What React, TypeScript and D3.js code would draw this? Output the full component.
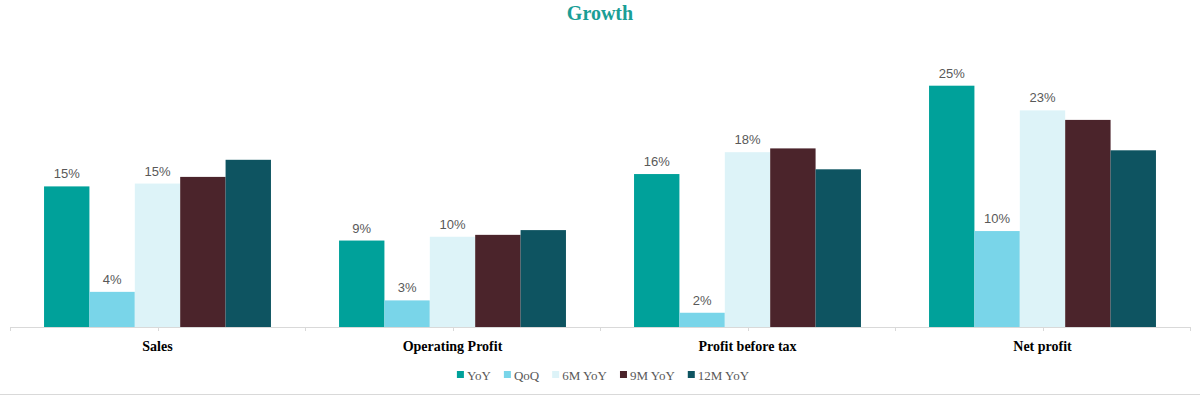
import { useEffect, useRef } from 'react';
import * as d3 from 'd3';

const categorias = ['Sales', 'Operating Profit', 'Profit before tax', 'Net profit'];
const series = ['YoY', 'QoQ', '6M YoY', '9M YoY', '12M YoY'];
const colores = ['#00a19a', '#79d5e9', '#ddf3f8', '#4b242b', '#0e5461'];
// valores en % por categoria, en el orden de series
const valYoY = [14.8, 9.1, 16.1, 25.4];
const valQoQ = [3.7, 2.8, 1.5, 10.1];
const val6M = [15.1, 9.5, 18.4, 22.8];
const val9M = [15.8, 9.7, 18.8, 21.8];
const val12M = [17.6, 10.2, 16.6, 18.6];
const conEtiqueta = ['YoY', 'QoQ', '6M YoY'];

const W = 1200;
const H = 396;

export default function App() {
  const ref = useRef<SVGSVGElement>(null);

  useEffect(() => {
    const svg = d3.select(ref.current);
    svg.selectAll('*').remove();

    const valores = [valYoY, valQoQ, val6M, val9M, val12M];
    const datos = categorias.flatMap((c, i) =>
      series.map((s, j) => ({ cat: c, serie: s, valor: valores[j][i], color: colores[j] }))
    );

    const baseY = 327;
    const x0 = d3.scaleBand().domain(categorias).range([10, 1190]).padding(0);
    const x1 = d3.scaleBand().domain(series).range([0, x0.bandwidth()]).paddingInner(0).paddingOuter(0.75);
    const y = d3.scaleLinear().domain([0, 30]).range([baseY, 42]);

    // Titulo
    svg.append('text')
      .attr('x', W / 2)
      .attr('y', 20)
      .attr('text-anchor', 'middle')
      .attr('font-family', 'Liberation Serif, serif')
      .attr('font-weight', 700)
      .attr('font-size', 20)
      .attr('fill', '#1a9e96')
      .text('Growth');

    // Barras
    svg.append('g')
      .selectAll('rect')
      .data(datos)
      .join('rect')
      .attr('x', d => x0(d.cat)! + x1(d.serie)!)
      .attr('y', d => y(d.valor))
      .attr('width', x1.bandwidth())
      .attr('height', d => baseY - y(d.valor))
      .attr('fill', d => d.color);

    // Etiquetas
    svg.append('g')
      .selectAll('text')
      .data(datos.filter(d => conEtiqueta.includes(d.serie)))
      .join('text')
      .attr('x', d => x0(d.cat)! + x1(d.serie)! + x1.bandwidth() / 2)
      .attr('y', d => y(d.valor) - 8)
      .attr('text-anchor', 'middle')
      .attr('font-family', 'Liberation Sans, Arial, sans-serif')
      .attr('font-size', 13)
      .attr('fill', '#595959')
      .text(d => Math.round(d.valor) + '%');

    // Eje X
    const eje = svg.append('g');
    eje.append('line')
      .attr('x1', 10).attr('x2', 1190)
      .attr('y1', baseY + 0.5).attr('y2', baseY + 0.5)
      .attr('stroke', '#d9d9d9');
    const marcas = categorias.flatMap(c => [x0(c)!, x0(c)! + x0.bandwidth() / 2]).concat([1190]);
    eje.selectAll('line.tick')
      .data(marcas)
      .join('line')
      .attr('class', 'tick')
      .attr('x1', d => Math.round(d) + 0.5).attr('x2', d => Math.round(d) + 0.5)
      .attr('y1', baseY).attr('y2', baseY + 4)
      .attr('stroke', '#d9d9d9');
    eje.selectAll('text')
      .data(categorias)
      .join('text')
      .attr('x', d => x0(d)! + x0.bandwidth() / 2)
      .attr('y', 351)
      .attr('text-anchor', 'middle')
      .attr('font-family', 'Liberation Serif, serif')
      .attr('font-weight', 700)
      .attr('font-size', 14)
      .attr('fill', '#000')
      .text(d => d);

    // Leyenda: se mide el texto y se centra
    const leyenda = svg.append('g');
    const items = series.map((s, i) => {
      const g = leyenda.append('g');
      g.append('rect').attr('x', 0).attr('y', 371).attr('width', 7).attr('height', 7).attr('fill', colores[i]);
      const t = g.append('text')
        .attr('x', 10)
        .attr('y', 380)
        .attr('font-family', 'Liberation Serif, serif')
        .attr('font-size', 13)
        .attr('fill', '#595959')
        .text(s);
      const ancho = 10 + (t.node() as SVGTextElement).getComputedTextLength();
      return { g, ancho };
    });
    const gap = 13;
    const total = d3.sum(items, d => d.ancho) + gap * (items.length - 1);
    let xl = 603 - total / 2;
    items.forEach(it => {
      it.g.attr('transform', `translate(${xl},0)`);
      xl += it.ancho + gap;
    });

    // Borde inferior
    svg.append('line')
      .attr('x1', 0).attr('x2', W)
      .attr('y1', 394.5).attr('y2', 394.5)
      .attr('stroke', '#d9d9d9');
  }, []);

  return (
    <div style={{ position: 'absolute', left: 0, top: 0, width: W, height: H, background: '#fff' }}>
      <svg ref={ref} width={W} height={H} style={{ display: 'block' }} />
    </div>
  );
}
